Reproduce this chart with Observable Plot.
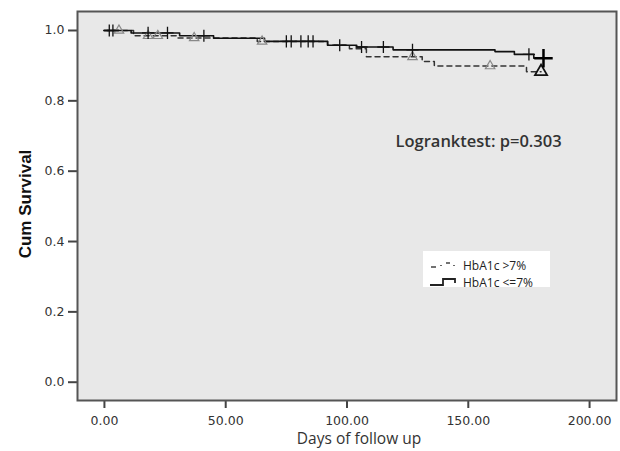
<!DOCTYPE html>
<html>
<head>
<meta charset="utf-8">
<script src="https://cdn.jsdelivr.net/npm/d3@7"></script>
<script src="https://cdn.jsdelivr.net/npm/@observablehq/plot@0.6"></script>
<style>
  body { margin: 0; background: #fff; }
  #wrap { position: relative; width: 620px; height: 451px; }
  #legend { position: absolute; left: 423px; top: 251px; width: 127px; height: 36px; background: #fff;
            font-family: "Open Sans", "Liberation Sans", sans-serif; font-size: 12px; color: #222; }
  #legend .row { position: absolute; left: 6px; display: flex; align-items: center; height: 16px; }
  #legend svg { margin-right: 4px; }
</style>
</head>
<body>
<div id="wrap">
  <div id="chart"></div>
  <div id="legend"></div>
</div>
<script>
// Group HbA1c > 7% (dashed, triangle censors)
const gtLabel = "HbA1c >7%";
const gtTimes = [0, 12, 30, 63, 92, 101, 108, 131, 136, 174, 180];
const gtSurv  = [1.0, 0.985, 0.979, 0.969, 0.958, 0.948, 0.925, 0.912, 0.899, 0.883, 0.883];
const gtCensor = [6, 18, 22, 37, 65, 127, 159, 180];

// Group HbA1c <= 7% (solid, plus censors)
const leLabel = "HbA1c <=7%";
const leTimes = [0, 11, 31, 45, 66, 92, 104, 119, 161, 169, 177, 181];
const leSurv  = [1.0, 0.993, 0.985, 0.978, 0.969, 0.958, 0.953, 0.945, 0.94, 0.932, 0.921, 0.921];
const leCensor = [2, 3.5, 18, 26, 41, 75, 77, 81, 84, 86, 97, 106, 115, 127, 175, 181];

const xTicks = [0, 50, 100, 150, 200];
const yTicks = [0, 0.2, 0.4, 0.6, 0.8, 1.0];
const annotation = "Logranktest: p=0.303";
const xLabel = "Days of follow up";
const yLabel = "Cum Survival";

function steps(times, surv) { return times.map((t, i) => ({t, s: surv[i]})); }
function survAt(times, surv, t) {
  let s = surv[0];
  for (let i = 0; i < times.length; i++) if (times[i] <= t) s = surv[i];
  return s;
}
function censorPts(cens, times, surv) {
  return cens.map((t, i) => ({t, s: survAt(times, surv, t), last: i === cens.length - 1}));
}

const gtLine = steps(gtTimes, gtSurv);
const leLine = steps(leTimes, leSurv);
const gtC = censorPts(gtCensor, gtTimes, gtSurv);
const leC = censorPts(leCensor, leTimes, leSurv);

const tickFont = {fontFamily: "DejaVu Sans, Verdana, sans-serif", fontSize: 12.5};

const plot = Plot.plot({
  width: 620,
  height: 451,
  marginLeft: 77,
  marginRight: 4,
  marginTop: 11,
  marginBottom: 51,
  style: {background: "#fff", color: "#333"},
  x: {domain: [-11.1, 211.1]},
  y: {domain: [-0.052, 1.054]},
  marks: [
    Plot.frame({fill: "#e8e8e8", stroke: null}),
    Plot.axisX({ticks: xTicks, tickFormat: d3.format(".2f"), tickSize: 8, tickPadding: 8,
                strokeWidth: 2, stroke: "#444", label: null, ...tickFont, fill: "#333"}),
    Plot.axisY({ticks: yTicks, tickFormat: d3.format(".1f"), tickSize: 9, tickPadding: 4,
                strokeWidth: 2, stroke: "#444", label: null, ...tickFont, fill: "#333"}),
    Plot.line(gtLine, {x: "t", y: "s", curve: "step-after", stroke: "#333", strokeWidth: 1.5,
                       strokeDasharray: "5,4"}),
    Plot.line(leLine, {x: "t", y: "s", curve: "step-after", stroke: "#111", strokeWidth: 1.6}),
    Plot.dot(gtC.filter(d => !d.last), {x: "t", y: "s", symbol: "triangle", r: 3.5, stroke: "#888", strokeWidth: 1.2, fill: "none"}),
    Plot.dot(gtC.filter(d => d.last), {x: "t", y: "s", symbol: "triangle", r: 4.5, stroke: "#111", strokeWidth: 1.8, fill: "none"}),
    Plot.dot(leC.filter(d => !d.last), {x: "t", y: "s", symbol: "plus", r: 4, stroke: "#111", strokeWidth: 1.3}),
    Plot.dot(leC.filter(d => d.last), {x: "t", y: "s", symbol: "plus", r: 6, stroke: "#000", strokeWidth: 2.5}),
    Plot.frame({stroke: "#555", strokeWidth: 2}),
    Plot.text([annotation], {frameAnchor: "top-left", dx: 318, dy: 124, text: d => d, textAnchor: "start",
                             fontFamily: "Open Sans, sans-serif", fontWeight: 600, fontSize: 16.5, fill: "#333"}),
    Plot.text([xLabel], {frameAnchor: "bottom", dx: 12, dy: 39, text: d => d, textAnchor: "middle", lineAnchor: "middle",
                         fontFamily: "Open Sans, sans-serif", fontSize: 15.5, fill: "#333"}),
    Plot.text([yLabel], {frameAnchor: "left", dx: -52, dy: -2, rotate: -90, text: d => d, textAnchor: "middle",
                         fontFamily: "Liberation Sans, Arial, sans-serif", fontWeight: "bold", fontSize: 17, fill: "#111"})
  ]
});
document.getElementById("chart").appendChild(plot);

const legend = document.getElementById("legend");
legend.innerHTML = `
  <div class="row" style="top:6px">
    <svg width="30" height="12"><path d="M2,8 H7 M12,7 V6 M17,4 H21 M25,6 V7" stroke="#444" stroke-width="1.6" fill="none"/></svg>
    <span>${gtLabel}</span></div>
  <div class="row" style="top:23px">
    <svg width="30" height="12"><path d="M1,9 H14 V3 H26 V7" stroke="#222" stroke-width="1.8" fill="none"/></svg>
    <span>${leLabel}</span></div>`;
</script>
</body>
</html>
